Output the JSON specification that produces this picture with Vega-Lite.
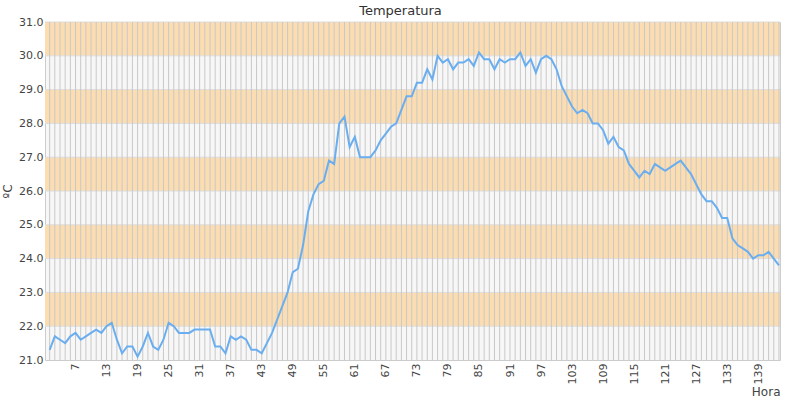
{
  "$schema": "https://vega.github.io/schema/vega-lite/v6.json",
  "autosize": "none",
  "width": 735,
  "height": 338,
  "padding": {"left": 45, "top": 22, "right": 20, "bottom": 40},
  "background": "#ffffff",
  "title": {"text": "Temperatura", "fontSize": 13, "fontWeight": "normal", "color": "#333333", "anchor": "middle", "dx": -12, "offset": 0, "dy": 2},
  "datasets": {
    "bandas": [
      {"desde": 22, "hasta": 23},
      {"desde": 24, "hasta": 25},
      {"desde": 26, "hasta": 27},
      {"desde": 28, "hasta": 29},
      {"desde": 30, "hasta": 31}
    ],
    "temps": [
      {"hora": 2, "temperatura": 21.3}, {"hora": 3, "temperatura": 21.7}, {"hora": 4, "temperatura": 21.6},
      {"hora": 5, "temperatura": 21.5}, {"hora": 6, "temperatura": 21.7}, {"hora": 7, "temperatura": 21.8},
      {"hora": 8, "temperatura": 21.6}, {"hora": 9, "temperatura": 21.7}, {"hora": 10, "temperatura": 21.8},
      {"hora": 11, "temperatura": 21.9}, {"hora": 12, "temperatura": 21.8}, {"hora": 13, "temperatura": 22.0},
      {"hora": 14, "temperatura": 22.1}, {"hora": 15, "temperatura": 21.6}, {"hora": 16, "temperatura": 21.2},
      {"hora": 17, "temperatura": 21.4}, {"hora": 18, "temperatura": 21.4}, {"hora": 19, "temperatura": 21.1},
      {"hora": 20, "temperatura": 21.4}, {"hora": 21, "temperatura": 21.8}, {"hora": 22, "temperatura": 21.4},
      {"hora": 23, "temperatura": 21.3}, {"hora": 24, "temperatura": 21.6}, {"hora": 25, "temperatura": 22.1},
      {"hora": 26, "temperatura": 22.0}, {"hora": 27, "temperatura": 21.8}, {"hora": 28, "temperatura": 21.8},
      {"hora": 29, "temperatura": 21.8}, {"hora": 30, "temperatura": 21.9}, {"hora": 31, "temperatura": 21.9},
      {"hora": 32, "temperatura": 21.9}, {"hora": 33, "temperatura": 21.9}, {"hora": 34, "temperatura": 21.4},
      {"hora": 35, "temperatura": 21.4}, {"hora": 36, "temperatura": 21.2}, {"hora": 37, "temperatura": 21.7},
      {"hora": 38, "temperatura": 21.6}, {"hora": 39, "temperatura": 21.7}, {"hora": 40, "temperatura": 21.6},
      {"hora": 41, "temperatura": 21.3}, {"hora": 42, "temperatura": 21.3}, {"hora": 43, "temperatura": 21.2},
      {"hora": 44, "temperatura": 21.5}, {"hora": 45, "temperatura": 21.8}, {"hora": 46, "temperatura": 22.2},
      {"hora": 47, "temperatura": 22.6}, {"hora": 48, "temperatura": 23.0}, {"hora": 49, "temperatura": 23.6},
      {"hora": 50, "temperatura": 23.7}, {"hora": 51, "temperatura": 24.4}, {"hora": 52, "temperatura": 25.4},
      {"hora": 53, "temperatura": 25.9}, {"hora": 54, "temperatura": 26.2}, {"hora": 55, "temperatura": 26.3},
      {"hora": 56, "temperatura": 26.9}, {"hora": 57, "temperatura": 26.8}, {"hora": 58, "temperatura": 28.0},
      {"hora": 59, "temperatura": 28.2}, {"hora": 60, "temperatura": 27.3}, {"hora": 61, "temperatura": 27.6},
      {"hora": 62, "temperatura": 27.0}, {"hora": 63, "temperatura": 27.0}, {"hora": 64, "temperatura": 27.0},
      {"hora": 65, "temperatura": 27.2}, {"hora": 66, "temperatura": 27.5}, {"hora": 67, "temperatura": 27.7},
      {"hora": 68, "temperatura": 27.9}, {"hora": 69, "temperatura": 28.0}, {"hora": 70, "temperatura": 28.4},
      {"hora": 71, "temperatura": 28.8}, {"hora": 72, "temperatura": 28.8}, {"hora": 73, "temperatura": 29.2},
      {"hora": 74, "temperatura": 29.2}, {"hora": 75, "temperatura": 29.6}, {"hora": 76, "temperatura": 29.3},
      {"hora": 77, "temperatura": 30.0}, {"hora": 78, "temperatura": 29.8}, {"hora": 79, "temperatura": 29.9},
      {"hora": 80, "temperatura": 29.6}, {"hora": 81, "temperatura": 29.8}, {"hora": 82, "temperatura": 29.8},
      {"hora": 83, "temperatura": 29.9}, {"hora": 84, "temperatura": 29.7}, {"hora": 85, "temperatura": 30.1},
      {"hora": 86, "temperatura": 29.9}, {"hora": 87, "temperatura": 29.9}, {"hora": 88, "temperatura": 29.6},
      {"hora": 89, "temperatura": 29.9}, {"hora": 90, "temperatura": 29.8}, {"hora": 91, "temperatura": 29.9},
      {"hora": 92, "temperatura": 29.9}, {"hora": 93, "temperatura": 30.1}, {"hora": 94, "temperatura": 29.7},
      {"hora": 95, "temperatura": 29.9}, {"hora": 96, "temperatura": 29.5}, {"hora": 97, "temperatura": 29.9},
      {"hora": 98, "temperatura": 30.0}, {"hora": 99, "temperatura": 29.9}, {"hora": 100, "temperatura": 29.6},
      {"hora": 101, "temperatura": 29.1}, {"hora": 102, "temperatura": 28.8}, {"hora": 103, "temperatura": 28.5},
      {"hora": 104, "temperatura": 28.3}, {"hora": 105, "temperatura": 28.4}, {"hora": 106, "temperatura": 28.3},
      {"hora": 107, "temperatura": 28.0}, {"hora": 108, "temperatura": 28.0}, {"hora": 109, "temperatura": 27.8},
      {"hora": 110, "temperatura": 27.4}, {"hora": 111, "temperatura": 27.6}, {"hora": 112, "temperatura": 27.3},
      {"hora": 113, "temperatura": 27.2}, {"hora": 114, "temperatura": 26.8}, {"hora": 115, "temperatura": 26.6},
      {"hora": 116, "temperatura": 26.4}, {"hora": 117, "temperatura": 26.6}, {"hora": 118, "temperatura": 26.5},
      {"hora": 119, "temperatura": 26.8}, {"hora": 120, "temperatura": 26.7}, {"hora": 121, "temperatura": 26.6},
      {"hora": 122, "temperatura": 26.7}, {"hora": 123, "temperatura": 26.8}, {"hora": 124, "temperatura": 26.9},
      {"hora": 125, "temperatura": 26.7}, {"hora": 126, "temperatura": 26.5}, {"hora": 127, "temperatura": 26.2},
      {"hora": 128, "temperatura": 25.9}, {"hora": 129, "temperatura": 25.7}, {"hora": 130, "temperatura": 25.7},
      {"hora": 131, "temperatura": 25.5}, {"hora": 132, "temperatura": 25.2}, {"hora": 133, "temperatura": 25.2},
      {"hora": 134, "temperatura": 24.6}, {"hora": 135, "temperatura": 24.4}, {"hora": 136, "temperatura": 24.3},
      {"hora": 137, "temperatura": 24.2}, {"hora": 138, "temperatura": 24.0}, {"hora": 139, "temperatura": 24.1},
      {"hora": 140, "temperatura": 24.1}, {"hora": 141, "temperatura": 24.2}, {"hora": 142, "temperatura": 24.0},
      {"hora": 143, "temperatura": 23.8}
    ]
  },
  "layer": [
    {
      "data": {"name": "bandas"},
      "mark": {"type": "rect", "color": "#fcddb1"},
      "encoding": {
        "y": {"field": "desde", "type": "quantitative", "title": "ºC", "scale": {"domain": [21, 31], "nice": false, "zero": false}},
        "y2": {"field": "hasta"}
      }
    },
    {
      "data": {"name": "bandas"},
      "mark": {"type": "rule", "color": "#dddddd", "strokeWidth": 1},
      "encoding": {
        "y": {"field": "desde", "type": "quantitative", "title": "ºC"}
      }
    },
    {
      "data": {"name": "bandas"},
      "mark": {"type": "rule", "color": "#dddddd", "strokeWidth": 1},
      "encoding": {
        "y": {"field": "hasta", "type": "quantitative", "title": "ºC"}
      }
    },
    {
      "data": {"name": "temps"},
      "mark": {"type": "rule", "color": "#c8c8c8", "strokeWidth": 1},
      "encoding": {
        "x": {"field": "hora", "type": "quantitative", "title": "Hora", "scale": {"domain": [1.1, 143.2], "nice": false, "zero": false}}
      }
    },
    {
      "data": {"name": "temps"},
      "mark": {"type": "line", "color": "#6aaef0", "strokeWidth": 2, "clip": true},
      "encoding": {
        "x": {
          "field": "hora", "type": "quantitative", "title": "Hora",
          "axis": {
            "values": [7, 13, 19, 25, 31, 37, 43, 49, 55, 61, 67, 73, 79, 85, 91, 97, 103, 109, 115, 121, 127, 133, 139],
            "tickCount": 500, "format": "d",
            "labelAngle": -90, "grid": false, "ticks": false, "domain": false,
            "labelPadding": 3, "labelFontSize": 11, "labelColor": "#444444",
            "titleAnchor": "end", "titleFontSize": 12, "titleFontWeight": "normal", "titleColor": "#444444", "titlePadding": 3
          }
        },
        "y": {
          "field": "temperatura", "type": "quantitative", "title": "ºC",
          "axis": {
            "values": [21, 22, 23, 24, 25, 26, 27, 28, 29, 30, 31],
            "tickCount": 500,
            "format": ".1f", "grid": false, "ticks": false, "domain": false,
            "labelPadding": 2, "labelFontSize": 11, "labelColor": "#444444",
            "titleFontSize": 12, "titleFontWeight": "normal", "titleColor": "#444444", "titlePadding": 4
          }
        }
      }
    }
  ],
  "config": {
    "font": "DejaVu Sans",
    "axis": {"labelOverlap": false, "labelFlush": false, "labelSeparation": 0},
    "view": {"fill": "#f7f7f7", "stroke": "#cccccc", "strokeWidth": 1}
  }
}
